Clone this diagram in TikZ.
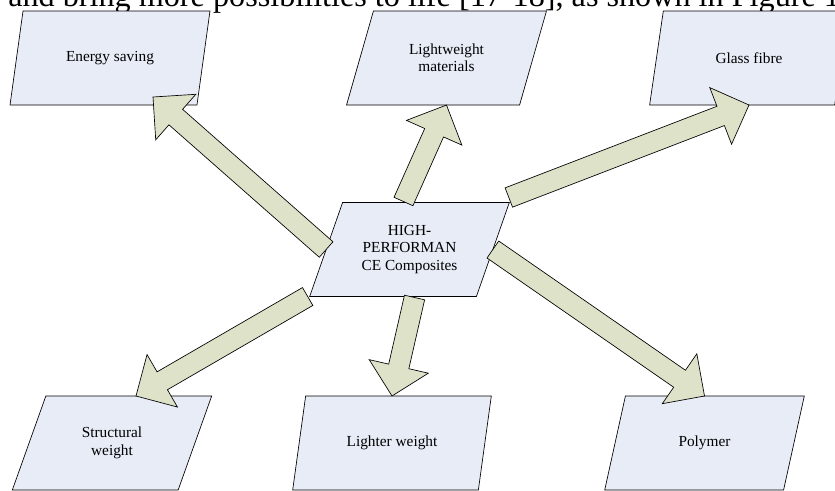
\documentclass[tikz,border=0pt]{standalone}
\usepackage{fontspec}
\setmainfont{Liberation Serif}
\usetikzlibrary{shapes.geometric,shapes.arrows,calc}
\definecolor{boxfill}{RGB}{231,236,247}
\definecolor{arrowfill}{RGB}{221,226,201}
\tikzset{
  topic/.style={trapezium, trapezium left angle=64, trapezium right angle=116,
    trapezium stretches=true, minimum width=150pt, minimum height=70.5pt,
    inner sep=0pt, outer sep=0pt, draw=black, line width=0.5pt, fill=boxfill,
    align=center, font=\fontsize{11.5}{13.1}\selectfont},
  fatarrow/.style={single arrow, single arrow head extend=15pt,
    single arrow tip angle=90, inner xsep=0pt, inner ysep=7.5pt, outer sep=0pt,
    draw=black, line width=0.5pt, fill=arrowfill}
}
\begin{document}
\begin{tikzpicture}[x=0.75pt,y=-0.75pt]
            \useasboundingbox (0,0) rectangle (835,490);
            \clip (0,0) rectangle (835,490);
            % the line of the page above the figure
            \node[anchor=base west, inner sep=0pt, font=\fontsize{24.15}{28}\selectfont] (pageline) at (8,6) {and bring more possibilities to life [17-18], as shown in Figure 1};
            % the boxes
            \node[topic] (saving) at (110,58) {Energy saving};
            \node[topic] (light) at (446.5,58) {Lightweight\\materials};
            \node[topic] (glass) at (749,58) {Glass fibre};
            \node[topic] (core) at (409.5,249.5) {HIGH-\\PERFORMAN\\CE Composites};
            \node[topic] (struct) at (112,443) {Structural\\weight};
            \node[topic] (lighter) at (392,443) {Lighter weight};
            \node[topic] (polymer) at (704.5,443) {Polymer};
            % where the arrows start and end
            \coordinate (core-saving) at (core.left side);
            \coordinate (core-light) at ([shift={(-22.5,-1)}]core.top side);
            \coordinate (core-glass) at ([shift={(-0.5,-5)}]core.top right corner);
            \coordinate (core-struct) at ([shift={(-2,0)}]core.bottom left corner);
            \coordinate (core-lighter) at ([shift={(21.5,1)}]core.bottom side);
            \coordinate (core-polymer) at (core.right side);
            \coordinate (saving-in) at ([shift={(43,39)}]saving.center);
            \coordinate (light-in) at (light.center |- light.bottom side);
            \coordinate (glass-in) at (glass.center |- glass.bottom side);
            \coordinate (struct-in) at ([shift={(24,0)}]struct.center |- struct.top side);
            \coordinate (lighter-in) at (lighter.center |- lighter.top side);
            \coordinate (polymer-in) at (polymer.center |- polymer.top side);
            % the arrows
            \foreach \to in {saving,light,glass,struct,lighter,polymer}
              \path let \p1 = ($(\to-in)-(core-\to)$), \n1 = {atan2(\y1,\x1)}, \n2 = {veclen(\x1,\y1)} in
                node[fatarrow, minimum height=\n2, rotate=\n1, anchor=tail] (arrow-\to) at (core-\to) {};
        \end{tikzpicture}
\end{document}
